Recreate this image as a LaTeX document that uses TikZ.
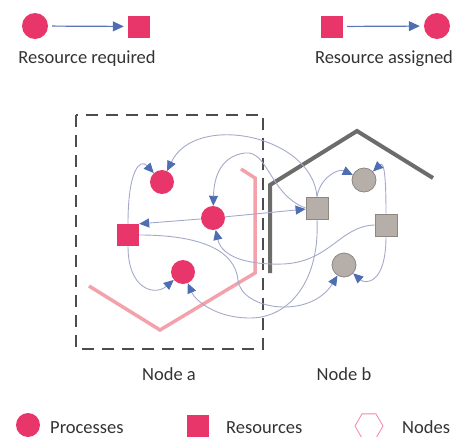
\documentclass[tikz,border=0pt]{standalone}
\usepackage{fontspec}
\setmainfont{Carlito}
\usepackage{xcolor}
\usetikzlibrary{arrows.meta,shapes.geometric}

\definecolor{procred}{HTML}{E8366A}
\definecolor{nodegray}{HTML}{B6AFA9}
\definecolor{nodeedge}{HTML}{8E8780}
\definecolor{tipblue}{HTML}{4E6DB3}
\definecolor{linkgray}{HTML}{A4A9CB}
\definecolor{nodeapink}{HTML}{F3A2AB}
\definecolor{housegray}{HTML}{6E6C6A}

\begin{document}
\begin{tikzpicture}[x=1pt,y=-1pt,
    proc/.style={circle,fill=procred,minimum size=24pt,inner sep=0pt},
    res/.style={rectangle,fill=procred,minimum size=22pt,inner sep=0pt},
    bproc/.style={circle,fill=nodegray,draw=nodeedge,line width=0.8pt,minimum size=24pt,inner sep=0pt},
    bres/.style={rectangle,fill=nodegray,draw=nodeedge,line width=0.8pt,minimum size=22pt,inner sep=0pt},
    conn/.style={draw=linkgray,line width=0.9pt,-{Triangle[length=10pt,width=9pt,color=tipblue]}},
    keyarrow/.style={draw=tipblue!85!linkgray,line width=1.2pt,shorten <=4pt,shorten >=4pt,-{Triangle[length=11pt,width=10pt,color=tipblue]}},
    txt/.style={font=\fontsize{18.5}{22}\selectfont,text=black!80,inner sep=0pt}]
       \useasboundingbox (0,0) rectangle (459,437);

       % legend on top
       \node[proc,minimum size=26pt] (kreqp) at (35,26) {};
       \node[res] (kreqr) at (139,26.5) {};
       \draw[keyarrow] (kreqp) -- (kreqr);
       \node[txt,anchor=base] (kreq) at (87,63) {Resource required};

       \node[res] (kasgr) at (332,26.5) {};
       \node[proc,minimum size=26pt] (kasgp) at (437,26) {};
       \draw[keyarrow] (kasgr) -- (kasgp);
       \node[txt,anchor=base] (kasg) at (384,63) {Resource assigned};

       % the two nodes
       \draw[black!70,line width=1.5pt,dash pattern=on 12pt off 8pt] (76,115) rectangle (263,349);
       \draw[nodeapink,line width=3.5pt] (241,169) -- (255,178) -- (255,273) -- (160,330) -- (89,286);
       \draw[housegray,line width=4pt] (270,273) -- (270,185) -- (357,131) -- (433,178);

       % processes and resources of node a
       \node[proc] (pa1) at (162,182) {};
       \node[proc] (pa2) at (213,218) {};
       \node[proc] (pa3) at (183,272) {};
       \node[res] (ra1) at (128,235) {};

       % processes and resources of node b
       \node[bres] (rb1) at (317,208) {};
       \node[bproc] (pb1) at (364,180) {};
       \node[bres] (rb2) at (386,225) {};
       \node[bproc] (pb2) at (344,265) {};

       % requests and assignments
       \draw[conn] (ra1.north) .. controls (128,170) and (140,158) .. (pa1);
       \draw[conn] (rb1.north) .. controls (312,135) and (195,112) .. (pa1);
       \draw[conn] (pa2) -- (ra1.north east);
       \draw[conn] (pa2) -- (rb1);
       \draw[conn] (rb1.west) .. controls (270,195) and (268,150) .. (245,153)
                              .. controls (222,156) and (214,175) .. (pa2);
       \draw[conn] (rb2.west) .. controls (340,226) and (330,262) .. (283,264)
                              .. controls (250,265) and (222,258) .. (pa2);
       \draw[conn] (rb1.south) .. controls (320,280) and (290,318) .. (250,318)
                               .. controls (215,318) and (195,300) .. (pa3);
       \draw[conn] (ra1.south) .. controls (128,290) and (155,296) .. (pa3);
       \draw[conn] (ra1.east) .. controls (200,235) and (235,250) .. (238,280)
                              .. controls (241,310) and (310,320) .. (pb2);
       \draw[conn] (rb2.south) .. controls (386,285) and (365,284) .. (pb2);
       \draw[conn] (rb1.north) .. controls (320,178) and (338,168) .. (pb1);
       \draw[conn] (rb2.north) .. controls (386,185) and (385,160) .. (pb1);

       \node[txt,anchor=base] (na) at (169,380) {Node a};
       \node[txt,anchor=base] (nb) at (344,380) {Node b};

       % legend at the bottom
       \node[proc] (kp) at (28,425) {};
       \node[txt,anchor=base west] (kpt) at (50,433) {Processes};
       \node[res] (kr) at (197.5,426) {};
       \node[txt,anchor=base west] (krt) at (226,433) {Resources};
       \node[regular polygon,regular polygon sides=6,draw=procred!60,line width=0.8pt,minimum size=28pt,inner sep=0pt] (kn) at (369,426) {};
       \node[txt,anchor=base west] (knt) at (402,433) {Nodes};
   \end{tikzpicture}
\end{document}
